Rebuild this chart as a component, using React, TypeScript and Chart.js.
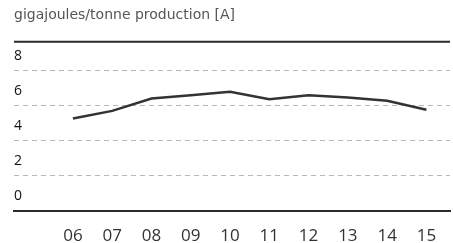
import React, { useEffect, useRef } from "react";
import { Chart, registerables } from "chart.js";

Chart.register(...registerables);

const categories = ["06", "07", "08", "09", "10", "11", "12", "13", "14", "15"];
const energyValues = [5.28, 5.71, 6.42, 6.6, 6.8, 6.38, 6.6, 6.48, 6.29, 5.77];
const yTicks = [0, 2, 4, 6, 8];
const titleText = "gigajoules/tonne production [A]";

const frameLines = {
  id: "frameLines",
  afterDraw(chart: any) {
    const { ctx, chartArea } = chart;
    ctx.save();
    ctx.strokeStyle = "#2a2a2a";
    ctx.lineWidth = 2;
    ctx.beginPath();
    ctx.moveTo(chartArea.left, chartArea.top);
    ctx.lineTo(chartArea.right, chartArea.top);
    ctx.stroke();
    ctx.restore();
  },
};

export default function App() {
  const ref = useRef<HTMLCanvasElement | null>(null);
  useEffect(() => {
    if (!ref.current) return;
    const chart = new Chart(ref.current, {
      type: "line",
      data: {
        datasets: [
          {
            data: categories.map((c, i) => ({ x: Number(c), y: energyValues[i] })),
            borderColor: "#333333",
            borderWidth: 2.5,
            pointRadius: 0,
            tension: 0,
            fill: false,
          },
        ],
      },
      options: {
        animation: false,
        responsive: true,
        maintainAspectRatio: false,
        layout: { padding: { left: 14, right: 3, top: 0, bottom: 0 } },
        plugins: {
          legend: { display: false },
          tooltip: { enabled: false },
          title: {
            display: true,
            text: titleText,
            align: "start",
            color: "#555555",
            font: { family: "DejaVu Sans", size: 14, weight: "normal" },
            padding: { top: 7, bottom: 18 },
          },
        },
        scales: {
          x: {
            type: "linear",
            min: 4.5,
            max: 15.6,
            afterBuildTicks: (scale: any) => {
              scale.ticks = categories.map((c) => ({ value: Number(c) }));
            },
            afterFit: (scale: any) => {
              scale.height = 32;
            },
            grid: { display: false, drawTicks: false },
            border: { display: true, color: "#2a2a2a", width: 2 },
            ticks: {
              color: "#333333",
              font: { family: "Open Sans", size: 17 },
              padding: 15,
              maxRotation: 0,
              autoSkip: false,
              callback: (v: any) => String(v).padStart(2, "0"),
            },
          },
          y: {
            min: 0,
            max: 9.65,
            afterBuildTicks: (scale: any) => {
              scale.ticks = yTicks.map((v) => ({ value: v }));
            },
            grid: {
              drawTicks: false,
              color: (ctx: any) => (ctx.tick && ctx.tick.value === 0 ? "rgba(0,0,0,0)" : "#b8b8b8"),
              lineWidth: 1,
            },
            border: { display: false, dash: [5, 4] },
            ticks: {
              mirror: true,
              padding: 0,
              labelOffset: -15,
              color: "#111111",
              font: { family: "Open Sans", size: 14, weight: "normal" },
            },
          },
        },
      },
      plugins: [frameLines],
    });
    return () => chart.destroy();
  }, []);
  return (
    <div style={{ position: "fixed", left: 0, top: 0, width: 453, height: 243, background: "#fff" }}>
      <canvas ref={ref} />
    </div>
  );
}
